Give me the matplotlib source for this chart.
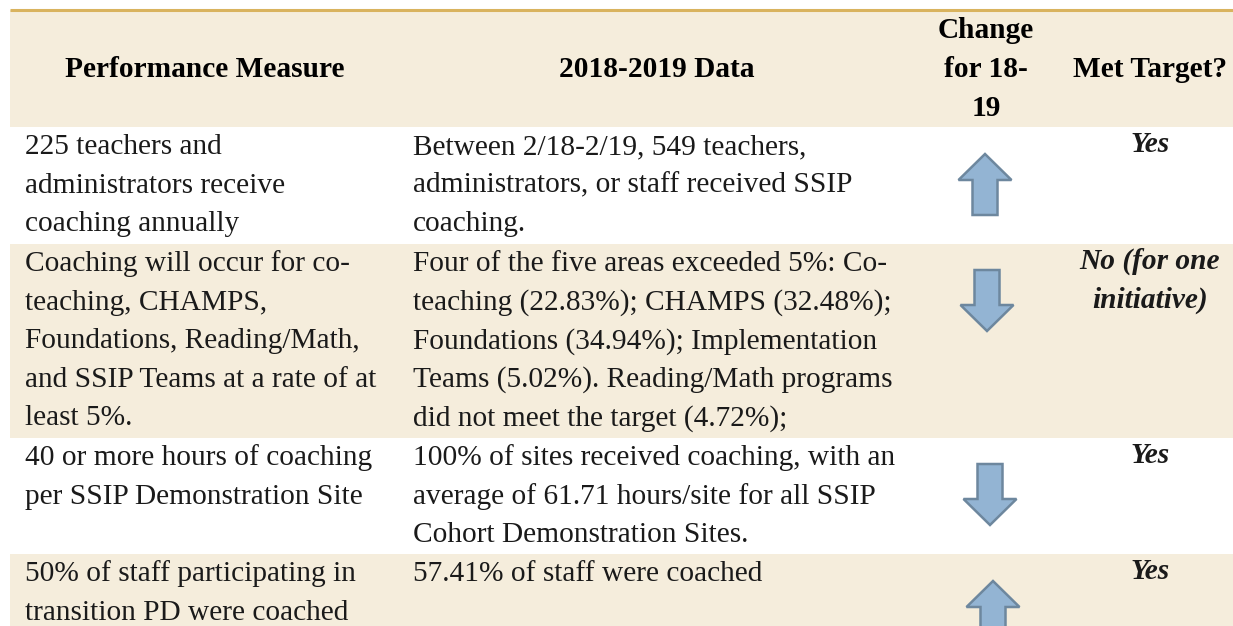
import matplotlib
matplotlib.use("Agg")
import matplotlib.pyplot as plt
from matplotlib.patches import Rectangle, Polygon

# ---- data ----
headers = ["Performance Measure", "2018-2019 Data", "Change\nfor 18-\n19", "Met Target?"]
measures = [
    ["225 teachers and", "administrators receive", "coaching annually"],
    ["Coaching will occur for co-", "teaching, CHAMPS,", "Foundations, Reading/Math,",
     "and SSIP Teams at a rate of at", "least 5%."],
    ["40 or more hours of coaching", "per SSIP Demonstration Site"],
    ["50% of staff participating in", "transition PD were coached"],
]
data_text = [
    ["Between 2/18-2/19, 549 teachers,", "administrators, or staff received SSIP", "coaching."],
    ["Four of the five areas exceeded 5%: Co-", "teaching (22.83%); CHAMPS (32.48%);",
     "Foundations (34.94%); Implementation", "Teams (5.02%). Reading/Math programs",
     "did not meet the target (4.72%);"],
    ["100% of sites received coaching, with an", "average of 61.71 hours/site for all SSIP",
     "Cohort Demonstration Sites."],
    ["57.41% of staff were coached"],
]
change = ["up", "down", "down", "up"]
met = [["Yes"], ["No (for one", "initiative)"], ["Yes"], ["Yes"]]

# ---- layout / style ----
W, H = 1233, 626
BEIGE = "#F5EDDC"
GOLD = "#D9B35E"
ARROW_FC = "#93B4D3"
ARROW_EC = "#6D879E"
TXT = "#1a1a1a"
SERIF = ["Liberation Serif", "DejaVu Serif"]
left = 10
header_top, header_bot = 10, 127
row_bounds = [(127, 244), (244, 438), (438, 554), (554, 626)]
row_fill = ["white", BEIGE, "white", BEIGE]
line_h = 38.6
base_off = 27
col_x = [25, 413]
arrow_cx = [985, 987, 990, 993]
met_cx = 1150
body_fs = 21.2
head_fs = 21.2

fig = plt.figure(figsize=(W / 100, H / 100), dpi=100)
ax = fig.add_axes([0, 0, 1, 1])
ax.set_xlim(0, W)
ax.set_ylim(H, 0)
ax.axis("off")

# header
ax.add_patch(Rectangle((left, header_top), W - left, header_bot - header_top, fc=BEIGE, ec="none"))
ax.plot([left, W], [header_top, header_top], color=GOLD, lw=2.2, solid_capstyle="butt")
ax.text(205, 77, headers[0], fontsize=head_fs, fontweight="bold", family=SERIF,
        ha="center", va="baseline", color="black")
ax.text(657, 77, headers[1], fontsize=head_fs, fontweight="bold", family=SERIF,
        ha="center", va="baseline", color="black")
for i, ln in enumerate(headers[2].split("\n")):
    ax.text(986, 38.5 + i * 38.5, ln, fontsize=head_fs, fontweight="bold", family=SERIF,
            ha="center", va="baseline", color="black")
ax.text(1150, 77, headers[3], fontsize=head_fs, fontweight="bold", family=SERIF,
        ha="center", va="baseline", color="black")

def arrow(cx, top, bot, direction, half_w=26.5, shaft_hw=12.5, head_len=26):
    if direction == "up":
        hb = top + head_len
        pts = [(cx, top), (cx + half_w, hb), (cx + shaft_hw, hb), (cx + shaft_hw, bot),
               (cx - shaft_hw, bot), (cx - shaft_hw, hb), (cx - half_w, hb)]
    else:
        hb = bot - head_len
        pts = [(cx, bot), (cx + half_w, hb), (cx + shaft_hw, hb), (cx + shaft_hw, top),
               (cx - shaft_hw, top), (cx - shaft_hw, hb), (cx - half_w, hb)]
    ax.add_patch(Polygon(pts, closed=True, fc=ARROW_FC, ec=ARROW_EC, lw=1.8, zorder=3))

for r, (y0, y1) in enumerate(row_bounds):
    ax.add_patch(Rectangle((left, y0), W - left, y1 - y0, fc=row_fill[r], ec="none", zorder=0))
    for j, ln in enumerate(measures[r]):
        ax.text(col_x[0], y0 + base_off + j * line_h, ln, fontsize=body_fs, family=SERIF,
                ha="left", va="baseline", color=TXT)
    for j, ln in enumerate(data_text[r]):
        ax.text(col_x[1], y0 + base_off + j * line_h, ln, fontsize=body_fs, family=SERIF,
                ha="left", va="baseline", color=TXT)
    for j, ln in enumerate(met[r]):
        ax.text(met_cx, y0 + base_off - 2 + j * line_h, ln, fontsize=body_fs, family=SERIF,
                fontweight="bold", fontstyle="italic", ha="center", va="baseline", color=TXT)
    atop = y0 + 27 if change[r] == "up" else y0 + 26
    arrow(arrow_cx[r], atop, atop + 61, change[r])

fig.savefig("out.png", dpi=100)
